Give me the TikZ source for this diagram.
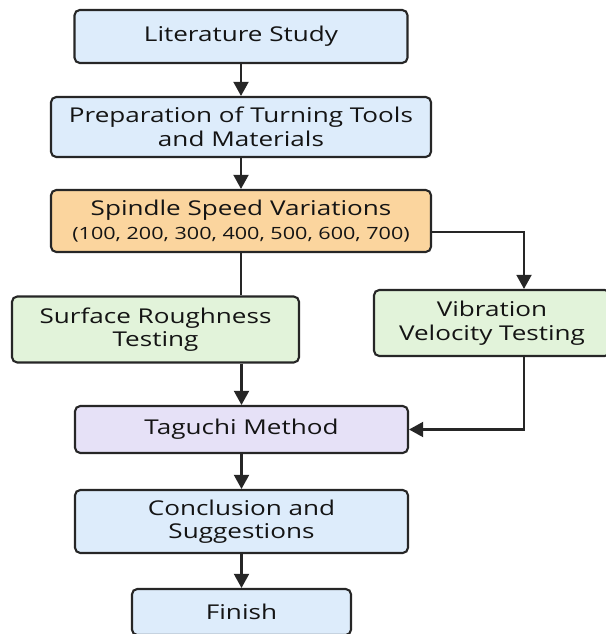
\documentclass[tikz,border=0pt]{standalone}
\usepackage{fontspec}
\setmainfont{Open Sans}[FakeStretch=1.28]
\usepackage{tikz}
\usetikzlibrary{arrows.meta}
\definecolor{FlowBlue}{HTML}{DDECFB}
\definecolor{FlowOrange}{HTML}{FBD59E}
\definecolor{FlowGreen}{HTML}{E2F3DA}
\definecolor{FlowPurple}{HTML}{E6E1F7}
\definecolor{FlowLine}{HTML}{262626}

\tikzset{
  stage/.style={draw=FlowLine, line width=1.2pt, rounded corners=3pt, align=center,
    inner sep=0pt, font=\fontsize{11.6}{13.4}\selectfont, text=black!92},
  flow/.style={draw=FlowLine, line width=1.2pt, -{Triangle[length=8pt,width=8.5pt]}}
}

\begin{document}
\begin{tikzpicture}
  \useasboundingbox (0,0) rectangle (12.1,-12.68);

  \node[stage, fill=FlowBlue, minimum width=6.66cm, minimum height=1.06cm] (lit) at (4.82,-0.73) {Literature Study};
  \node[stage, fill=FlowBlue, minimum width=7.6cm, minimum height=1.2cm] (prep) at (4.82,-2.54) {Preparation of Turning Tools\\and Materials};
  \node[stage, fill=FlowOrange, minimum width=7.6cm, minimum height=1.24cm] (spin) at (4.82,-4.42) {Spindle Speed Variations\\{\fontsize{9.6}{12}\selectfont (100, 200, 300, 400, 500, 600, 700)}};
  \node[stage, fill=FlowGreen, minimum width=5.74cm, minimum height=1.32cm] (surf) at (3.11,-6.59) {Surface Roughness\\Testing};
  \node[stage, fill=FlowGreen, minimum width=4.72cm, minimum height=1.32cm] (vib) at (9.84,-6.46) {Vibration\\Velocity Testing};
  \node[stage, fill=FlowPurple, minimum width=6.66cm, minimum height=0.94cm] (tag) at (4.83,-8.59) {Taguchi Method};
  \node[stage, fill=FlowBlue, minimum width=6.66cm, minimum height=1.26cm] (concl) at (4.83,-10.43) {Conclusion and\\Suggestions};
  \node[stage, fill=FlowBlue, minimum width=4.38cm, minimum height=0.92cm] (fin) at (4.83,-12.24) {Finish};

  \draw[flow] (lit) -- (prep);
  \draw[flow] (prep) -- (spin);
  \draw[draw=FlowLine, line width=1.2pt] (spin.south) -- (spin.south |- surf.north);
  \draw[flow] ([yshift=-0.22cm]spin.east) -| ([xshift=0.64cm]vib.north);
  \draw[flow] (tag.north |- surf.south) -- (tag.north);
  \draw[flow] ([xshift=0.64cm]vib.south) |- (tag.east);
  \draw[flow] (tag) -- (concl);
  \draw[flow] (concl) -- (fin);
\end{tikzpicture}
\end{document}
